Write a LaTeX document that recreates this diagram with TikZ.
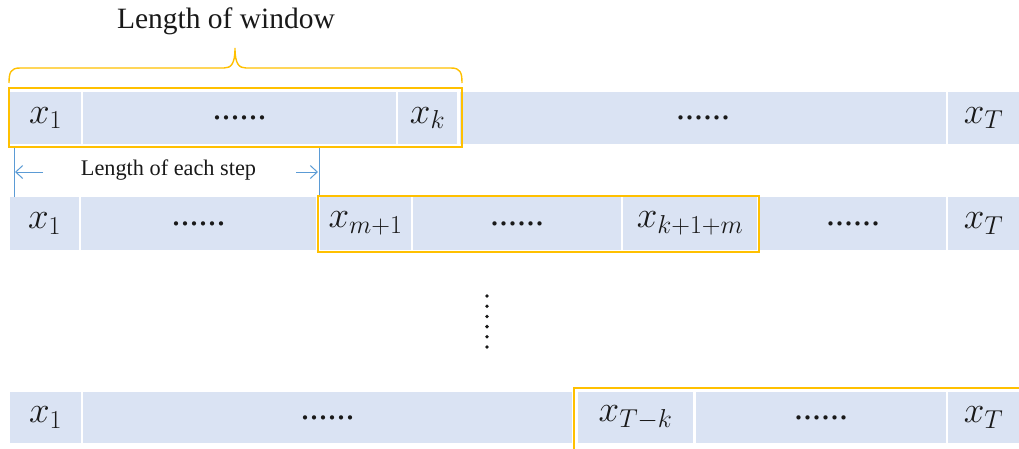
\RequirePackage{fix-cm}
\documentclass[tikz,border=0pt]{standalone}
\usepackage{fontspec}
\setmainfont{Liberation Serif}
\usetikzlibrary{arrows.meta}
\definecolor{cellblue}{RGB}{218,227,243}
\definecolor{winorange}{RGB}{255,192,0}
\definecolor{stepblue}{RGB}{91,155,213}
\definecolor{inkgray}{RGB}{25,25,25}
\begin{document}
\begin{tikzpicture}[x=1pt,y=-1pt,
  cell/.style={fill=cellblue, draw=none, inner sep=0pt, text=inkgray,
    font=\fontsize{37}{42}\selectfont},
  row1/.style={cell, minimum height=52pt},
  row2/.style={cell, minimum height=53pt},
  row3/.style={cell, minimum height=51pt},
  dotsfont/.style={font=\fontsize{36}{40}\selectfont},
  window/.style={draw=winorange, line width=1.6pt},
  stepline/.style={draw=stepblue, line width=1pt},
  steparrow/.style={draw=stepblue, line width=1pt,
    -{Straight Barb[length=7pt,width=13pt]}},
  label/.style={text=inkgray, inner sep=0pt}]
\useasboundingbox (0,0) rectangle (1019,448);

% first window position
\node[row1, minimum width=71pt]  (a1) at (45.5,118)  {$x_1$};
\node[row1, minimum width=313pt, dotsfont] (a2) at (239.5,118) {......};
\node[row1, minimum width=59pt]  (a3) at (427.5,118) {$x_k$};
\node[row1, minimum width=486pt, dotsfont] (a4) at (703,118) {......};
\node[row1, minimum width=71pt]  (a5) at (983.5,118) {$x_T$};
\draw[window] (9,88) rectangle (462,147);

% brace over the window
\draw[window, line width=1.4pt] (9,83) .. controls (9,72) and (11,68) .. (20,68)
  -- (224,68) .. controls (231,68) and (235,64) .. (235,48)
  .. controls (235,64) and (239,68) .. (246,68)
  -- (451,68) .. controls (460,68) and (462,72) .. (462,83);
\node[label, font=\fontsize{29.5}{34}\selectfont] (wlen) at (226,21) {Length of window};

% step length marker
\coordinate (sTopL) at (14,148);
\coordinate (sBotL) at (14,199);
\coordinate (sTopR) at (319,148);
\coordinate (sBotR) at (319,197);
\draw[stepline] (sTopL) -- (sBotL);
\draw[stepline] (sTopR) -- (sBotR);
\coordinate (aL0) at (43,172);
\coordinate (aL1) at (15,172);
\coordinate (aR0) at (296,172);
\coordinate (aR1) at (318,172);
\draw[steparrow] (aL0) -- (aL1);
\draw[steparrow] (aR0) -- (aR1);
\node[label, font=\fontsize{22.3}{26}\selectfont] (slen) at (168.5,170) {Length of each step};

% second window position
\node[row2, minimum width=69pt]  (b1) at (44.5,223.5)  {$x_1$};
\node[row2, minimum width=235pt, dotsfont] (b2) at (198.5,223.5) {......};
\node[row2, minimum width=91pt]  (b3) at (365.5,223.5) {$x_{m+1}$};
\node[row2, minimum width=208pt, dotsfont] (b4) at (517,223.5) {......};
\node[row2, minimum width=134pt] (b5) at (690,223.5) {$x_{k+1+m}$};
\node[row2, minimum width=186pt, dotsfont] (b6) at (853,223.5) {......};
\node[row2, minimum width=71pt]  (b7) at (983.5,223.5) {$x_T$};
\draw[window] (318,196) rectangle (759,252);

% vertical ellipsis
\foreach \i in {0,...,5}
  \fill[inkgray] (487,296+10.2*\i) circle (1.9pt);

% last window position
\node[row3, minimum width=71pt]  (c1) at (45.5,417.5)  {$x_1$};
\node[row3, minimum width=489pt, dotsfont] (c2) at (327.5,417.5) {......};
\node[row3, minimum width=115pt] (c3) at (635.5,417.5) {$x_{T-k}$};
\node[row3, minimum width=250pt, dotsfont] (c4) at (821,417.5) {......};
\node[row3, minimum width=71pt]  (c5) at (983.5,417.5) {$x_T$};
\draw[window] (574,455) -- (574,388) -- (1025,388);
\end{tikzpicture}
\end{document}
